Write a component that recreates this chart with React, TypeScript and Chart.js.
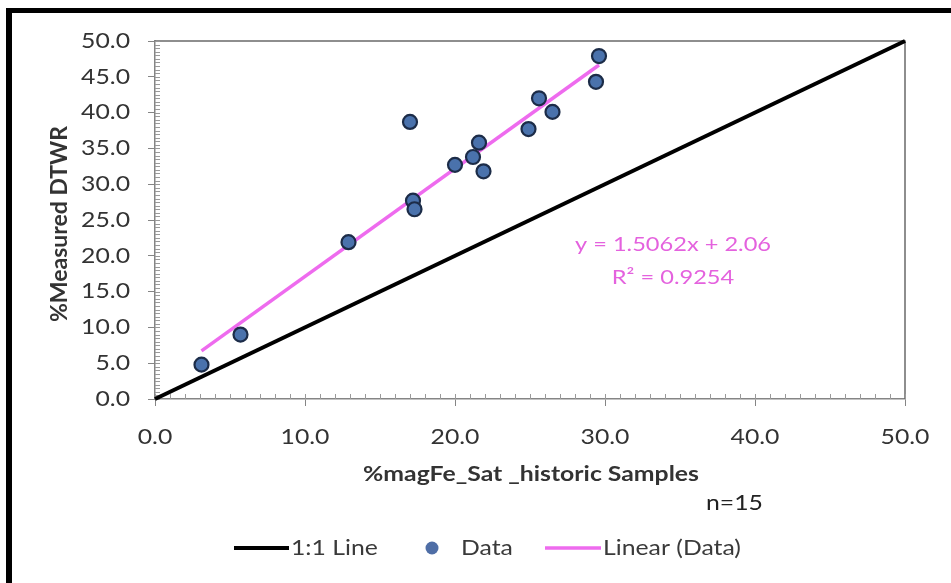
import { useEffect, useRef } from "react";
import { Chart, registerables } from "chart.js";

Chart.register(...registerables);

// ---- Data ----
const sampleX = [3.1, 5.7, 12.9, 17.0, 17.2, 17.3, 20.0, 21.2, 21.6, 21.9, 24.9, 25.6, 26.5, 29.4, 29.6];
const sampleY = [4.8, 9.0, 21.9, 38.7, 27.7, 26.5, 32.7, 33.8, 35.8, 31.8, 37.7, 42.0, 40.1, 44.3, 47.9];
const oneToOneX = [0, 50];
const oneToOneY = [0, 50];
const trendSlope = 1.5062;
const trendIntercept = 2.06;
const xTickValues = [0, 10, 20, 30, 40, 50];
const yTickValues = [0, 5, 10, 15, 20, 25, 30, 35, 40, 45, 50];
const equationText = "y = 1.5062x + 2.06";
const r2Text = "R² = 0.9254";
const xTitle = "%magFe_Sat _historic Samples";
const yTitle = "%Measured DTWR";
const countText = "n=15";
const legendLabels = ["1:1 Line", "Data", "Linear (Data)"];

const FONT = "Lato, 'Open Sans', sans-serif";
const STRETCH = 1.18;
const AXIS_GREY = "#858585";
const TEXT = "#333333";
const PINK_LINE = "#EE6BEE";
const PINK_TEXT = "#E462DE";
const DOT_FILL = "#4A72AC";
const DOT_EDGE = "#1C2C48";

const W = 951;
const H = 583;

const fmt = (v: number) => Number(v).toFixed(1);

function stretchedText(
  ctx: CanvasRenderingContext2D,
  text: string,
  x: number,
  y: number,
  align: CanvasTextAlign,
  font: string,
  color: string
) {
  ctx.save();
  ctx.translate(x, y);
  ctx.scale(STRETCH, 1);
  ctx.font = font;
  ctx.fillStyle = color;
  ctx.textAlign = align;
  ctx.textBaseline = "middle";
  ctx.fillText(text, 0, 0);
  ctx.restore();
}

export default function App() {
  const ref = useRef<HTMLCanvasElement | null>(null);

  useEffect(() => {
    const canvas = ref.current;
    if (!canvas) return;

    const minX = Math.min(...sampleX);
    const maxX = Math.max(...sampleX);
    const trendData = [minX, maxX].map((x) => ({ x, y: trendSlope * x + trendIntercept }));
    const scatterData = sampleX.map((x, i) => ({ x, y: sampleY[i] }));
    const diagData = oneToOneX.map((x, i) => ({ x, y: oneToOneY[i] }));

    const decor = {
      id: "decor",
      beforeDatasetsDraw(chart: any) {
        const { ctx, chartArea } = chart;
        const xs = chart.scales.x;
        const ys = chart.scales.y;
        ctx.save();
        // top & right border of plot area
        ctx.strokeStyle = "#6a6a6a";
        ctx.lineWidth = 1.5;
        ctx.beginPath();
        ctx.moveTo(chartArea.left, chartArea.top);
        ctx.lineTo(chartArea.right, chartArea.top);
        ctx.lineTo(chartArea.right, chartArea.bottom);
        ctx.stroke();
        // minor ticks
        ctx.strokeStyle = "#9a9a9a";
        ctx.lineWidth = 1;
        ctx.beginPath();
        for (let v = 0; v <= 50.001; v += 1) {
          const px = Math.round(xs.getPixelForValue(v)) + 0.5;
          ctx.moveTo(px, chartArea.bottom);
          ctx.lineTo(px, chartArea.bottom - 5);
        }
        for (let v = 0; v <= 50.001; v += 0.5) {
          const py = Math.round(ys.getPixelForValue(v)) + 0.5;
          ctx.moveTo(chartArea.left, py);
          ctx.lineTo(chartArea.left + 5, py);
        }
        ctx.stroke();
        ctx.restore();
      },
      afterDraw(chart: any) {
        const { ctx, chartArea } = chart;
        const xs = chart.scales.x;
        const ys = chart.scales.y;
        ctx.save();
        // outer frame
        ctx.fillStyle = "#000";
        ctx.fillRect(6, 8, 6, H - 8);
        ctx.fillRect(6, 8, W - 6, 5);

        // tick labels (positions from the chart's scales)
        const tickFont = `21px ${FONT}`;
        xs.ticks.forEach((t: any) => {
          stretchedText(ctx, fmt(t.value), xs.getPixelForValue(t.value), 437, "center", tickFont, TEXT);
        });
        ys.ticks.forEach((t: any) => {
          stretchedText(ctx, fmt(t.value), chartArea.left - 25, ys.getPixelForValue(t.value), "right", tickFont, TEXT);
        });

        // axis titles
        stretchedText(ctx, xTitle, 531, 474, "center", `bold 21px ${FONT}`, TEXT);
        ctx.save();
        ctx.translate(60, 224);
        ctx.rotate(-Math.PI / 2);
        ctx.font = `bold 23px ${FONT}`;
        ctx.fillStyle = TEXT;
        ctx.textAlign = "center";
        ctx.textBaseline = "middle";
        ctx.fillText(yTitle, 0, 0);
        ctx.restore();

        // n=15
        stretchedText(ctx, countText, 706, 503, "left", `21px ${FONT}`, "#222");

        // equation
        stretchedText(ctx, equationText, 673, 245, "center", `20px ${FONT}`, PINK_TEXT);
        stretchedText(ctx, r2Text, 673, 278, "center", `20px ${FONT}`, PINK_TEXT);

        // legend
        const ly = 548;
        const lf = `21px ${FONT}`;
        const lc = "#3a3a3a";
        ctx.strokeStyle = "#000";
        ctx.lineWidth = 4;
        ctx.beginPath();
        ctx.moveTo(234, ly);
        ctx.lineTo(289, ly);
        ctx.stroke();
        stretchedText(ctx, legendLabels[0], 291, ly, "left", lf, lc);
        ctx.beginPath();
        ctx.arc(432, ly, 6.5, 0, Math.PI * 2);
        ctx.fillStyle = "#4F6EA6";
        ctx.fill();
        stretchedText(ctx, legendLabels[1], 461, ly, "left", lf, lc);
        ctx.strokeStyle = PINK_LINE;
        ctx.lineWidth = 3.5;
        ctx.beginPath();
        ctx.moveTo(545, ly);
        ctx.lineTo(601, ly);
        ctx.stroke();
        stretchedText(ctx, legendLabels[2], 603, ly, "left", lf, lc);
        ctx.restore();
      },
    };

    const chart = new Chart(canvas, {
      type: "scatter",
      data: {
        datasets: [
          {
            label: legendLabels[0],
            data: diagData,
            showLine: true,
            borderColor: "#000",
            borderWidth: 4,
            pointRadius: 0,
            clip: false as any,
            order: 3,
          },
          {
            label: legendLabels[2],
            data: trendData,
            showLine: true,
            borderColor: PINK_LINE,
            borderWidth: 3.5,
            pointRadius: 0,
            order: 2,
          },
          {
            label: legendLabels[1],
            data: scatterData,
            showLine: false,
            backgroundColor: DOT_FILL,
            borderColor: DOT_EDGE,
            borderWidth: 2.2,
            pointRadius: 7,
            clip: false as any,
            order: 1,
          },
        ],
      },
      options: {
        animation: false,
        responsive: false,
        devicePixelRatio: 1,
        layout: { padding: { left: 0, top: 41, right: 46, bottom: 0 } },
        plugins: {
          legend: { display: false },
          tooltip: { enabled: false },
        },
        scales: {
          x: {
            type: "linear",
            min: 0,
            max: 50,
            afterBuildTicks: (s: any) => {
              s.ticks = xTickValues.map((v) => ({ value: v }));
            },
            afterFit: (s: any) => {
              s.height = H - 399;
            },
            ticks: {
              display: false,
              callback: (v: any) => fmt(v),
            },
            grid: {
              drawOnChartArea: false,
              drawTicks: true,
              tickLength: 7,
              color: AXIS_GREY,
            },
            border: { color: AXIS_GREY, width: 1.5 },
          },
          y: {
            type: "linear",
            min: 0,
            max: 50,
            afterBuildTicks: (s: any) => {
              s.ticks = yTickValues.map((v) => ({ value: v }));
            },
            afterFit: (s: any) => {
              s.width = 155;
            },
            ticks: {
              display: false,
              callback: (v: any) => fmt(v),
            },
            grid: {
              drawOnChartArea: false,
              drawTicks: true,
              tickLength: 7,
              color: AXIS_GREY,
            },
            border: { color: AXIS_GREY, width: 1.5 },
          },
        },
      },
      plugins: [decor],
    });

    return () => chart.destroy();
  }, []);

  return (
    <div style={{ position: "fixed", left: 0, top: 0, width: W, height: H, background: "#fff" }}>
      <canvas ref={ref} width={W} height={H} style={{ display: "block" }} />
    </div>
  );
}
